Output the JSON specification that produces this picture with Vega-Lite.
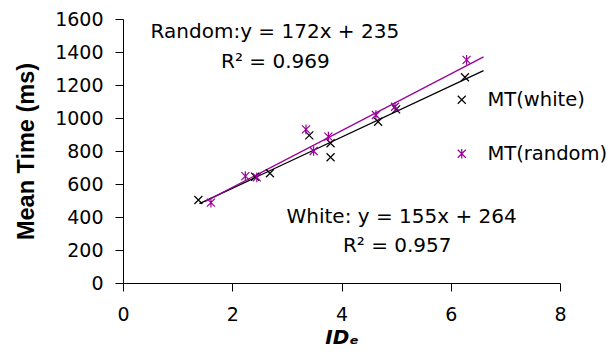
{
  "$schema": "https://vega.github.io/schema/vega-lite/v6.json",
  "autosize": {"type": "none"},
  "padding": {"left": 123, "top": 19, "right": 53, "bottom": 73},
  "width": 437,
  "height": 264,
  "background": "white",
  "config": {
    "view": {"stroke": null},
    "font": "DejaVu Sans",
    "axis": {
      "grid": false,
      "domainColor": "#000000",
      "domainWidth": 1,
      "tickColor": "#000000",
      "tickWidth": 1,
      "tickSize": 8,
      "labelColor": "#000000",
      "labelFont": "DejaVu Sans",
      "labelFontSize": 19,
      "titleColor": "#000000"
    }
  },
  "datasets": {
    "points": [
      {"series": "MT(white)", "ide": 1.38, "mt": 503},
      {"series": "MT(white)", "ide": 2.42, "mt": 644},
      {"series": "MT(white)", "ide": 2.69, "mt": 665},
      {"series": "MT(white)", "ide": 3.41, "mt": 895},
      {"series": "MT(white)", "ide": 3.8, "mt": 762},
      {"series": "MT(white)", "ide": 3.8, "mt": 847},
      {"series": "MT(white)", "ide": 4.67, "mt": 977},
      {"series": "MT(white)", "ide": 5.0, "mt": 1052},
      {"series": "MT(white)", "ide": 6.26, "mt": 1247},
      {"series": "MT(random)", "ide": 1.61, "mt": 487},
      {"series": "MT(random)", "ide": 2.24, "mt": 648},
      {"series": "MT(random)", "ide": 2.45, "mt": 640},
      {"series": "MT(random)", "ide": 3.35, "mt": 931},
      {"series": "MT(random)", "ide": 3.49, "mt": 800},
      {"series": "MT(random)", "ide": 3.76, "mt": 887},
      {"series": "MT(random)", "ide": 4.63, "mt": 1018},
      {"series": "MT(random)", "ide": 4.98, "mt": 1068},
      {"series": "MT(random)", "ide": 6.29, "mt": 1352}
    ],
    "fits": [
      {"fit": "white", "ide": 1.4, "mt": 481},
      {"fit": "white", "ide": 6.6, "mt": 1287},
      {"fit": "random", "ide": 1.5, "mt": 493},
      {"fit": "random", "ide": 6.6, "mt": 1370}
    ],
    "notes": [
      {"label": "Random:y = 172x + 235", "ide": 2.78, "mt": 1485},
      {"label": "R² = 0.969", "ide": 2.79, "mt": 1301},
      {"label": "White: y = 155x + 264", "ide": 5.1, "mt": 362},
      {"label": "R² = 0.957", "ide": 5.02, "mt": 190}
    ]
  },
  "encoding": {
    "x": {
      "field": "ide",
      "type": "quantitative",
      "scale": {"domain": [0, 8], "nice": false, "zero": true},
      "axis": {
        "values": [0, 2, 4, 6, 8],
        "format": "d",
        "title": "IDₑ",
        "titleFont": "DejaVu Sans",
        "titleFontStyle": "italic",
        "titleFontWeight": "bold",
        "titleFontSize": 20,
        "titlePadding": 3,
        "labelPadding": 14,
        "labelFlush": false
      }
    },
    "y": {
      "field": "mt",
      "type": "quantitative",
      "scale": {"domain": [0, 1600], "nice": false},
      "axis": {
        "values": [0, 200, 400, 600, 800, 1000, 1200, 1400, 1600],
        "format": "d",
        "title": "Mean Time (ms)",
        "titleFont": "Liberation Sans",
        "titleFontWeight": "bold",
        "titleFontSize": 23.5,
        "titlePadding": 16,
        "labelPadding": 12,
        "labelFlush": false
      }
    }
  },
  "layer": [
    {
      "data": {"name": "fits"},
      "mark": {"type": "line", "strokeWidth": 1.3},
      "encoding": {
        "detail": {"field": "fit"},
        "stroke": {
          "field": "fit",
          "type": "nominal",
          "scale": {"domain": ["white", "random"], "range": ["#000000", "#990099"]},
          "legend": null
        }
      }
    },
    {
      "data": {"name": "points"},
      "mark": {"type": "point", "filled": false, "size": 64, "strokeWidth": 1.2, "opacity": 1},
      "encoding": {
        "color": {
          "field": "series",
          "type": "nominal",
          "scale": {"domain": ["MT(white)", "MT(random)"], "range": ["#000000", "#990099"]},
          "legend": {
            "orient": "none",
            "legendX": 329,
            "legendY": 71,
            "title": null,
            "padding": 0,
            "labelFont": "DejaVu Sans",
            "labelFontSize": 19.5,
            "labelColor": "#000000",
            "labelOffset": 16,
            "rowPadding": 33,
            "symbolSize": 64,
            "symbolStrokeWidth": 1.2
          }
        },
        "shape": {
          "field": "series",
          "type": "nominal",
          "scale": {
            "domain": ["MT(white)", "MT(random)"],
            "range": ["M-1,-1L1,1M-1,1L1,-1", "M-1,-1L1,1M-1,1L1,-1M0,-1.2L0,1.2"]
          }
        }
      }
    },
    {
      "data": {"name": "notes"},
      "mark": {"type": "text", "font": "DejaVu Sans", "fontSize": 20, "color": "#000000", "align": "center", "baseline": "alphabetic"},
      "encoding": {
        "text": {"field": "label"}
      }
    }
  ]
}
